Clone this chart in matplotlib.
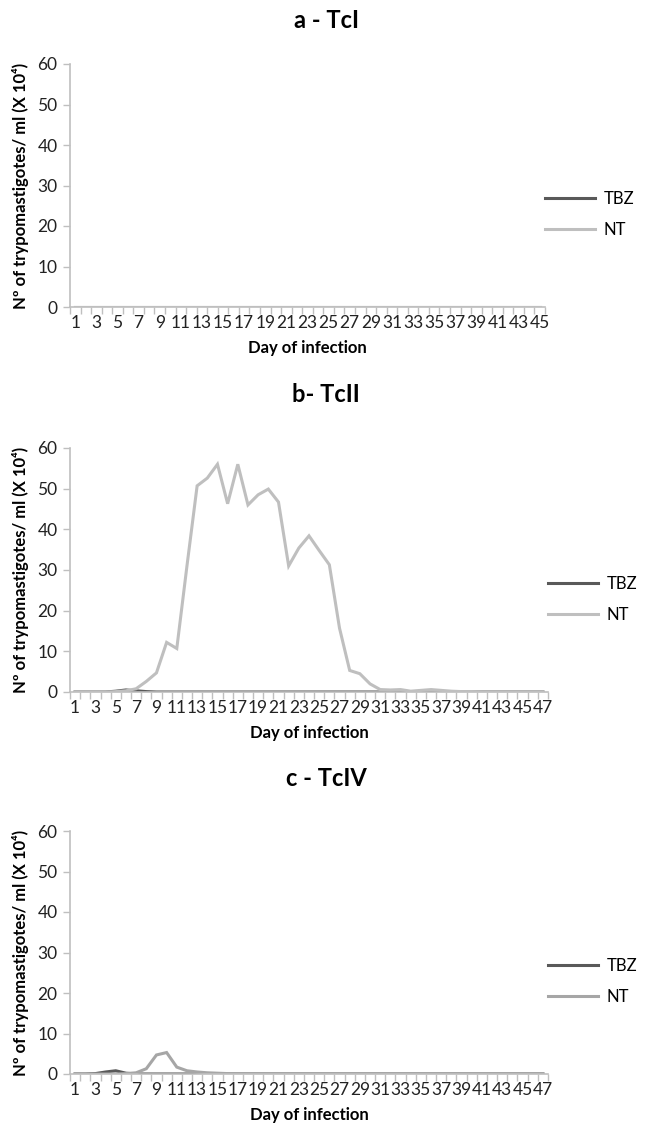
import numpy as np
import matplotlib
matplotlib.use("Agg")
import matplotlib.pyplot as plt

plt.rcParams['font.family'] = ['Lato', 'DejaVu Sans']

# ---- data ----
days_a = list(range(1, 46))
tbz_a = [0, 0, 0, 0, 0, 0, 0, 0, 0, 0, 0, 0, 0, 0, 0, 0, 0, 0, 0, 0, 0, 0, 0,
         0, 0, 0, 0, 0, 0, 0, 0, 0, 0, 0, 0, 0, 0, 0, 0, 0, 0, 0, 0, 0, 0]
nt_a = [0, 0, 0, 0, 0, 0, 0, 0, 0, 0, 0, 0, 0, 0, 0, 0, 0, 0, 0, 0, 0, 0, 0,
        0, 0, 0, 0, 0, 0, 0, 0, 0, 0, 0, 0, 0, 0, 0, 0, 0, 0, 0, 0, 0, 0]

days_b = list(range(1, 48))
tbz_b = [0, 0, 0, 0, 0.2, 0.5, 0.3, 0.1, 0, 0, 0, 0, 0, 0, 0, 0, 0, 0, 0, 0,
         0, 0, 0, 0, 0, 0, 0, 0, 0, 0, 0, 0, 0, 0, 0, 0, 0, 0, 0, 0,
         0, 0, 0, 0, 0, 0, 0]
nt_b = [0, 0, 0, 0, 0.1, 0.3, 0.8, 2.6, 4.7, 12.2, 10.7, 31.0, 50.7, 52.6, 56.0,
        46.3, 56.0, 46.0, 48.5, 49.9, 46.7, 31.0, 35.4, 38.4, 34.8, 31.3, 15.7,
        5.3, 4.5, 2.0, 0.6, 0.5, 0.6, 0.2, 0.4, 0.6, 0.4, 0.2, 0.1, 0.1,
        0, 0, 0, 0, 0, 0, 0]

days_c = list(range(1, 48))
tbz_c = [0, 0, 0.1, 0.5, 0.8, 0.2, 0, 0, 0, 0, 0, 0, 0, 0, 0, 0, 0, 0, 0, 0,
         0, 0, 0, 0, 0, 0, 0, 0, 0, 0, 0, 0, 0, 0, 0, 0, 0, 0, 0, 0,
         0, 0, 0, 0, 0, 0, 0]
nt_c = [0, 0, 0, 0, 0, 0.1, 0.3, 1.3, 4.7, 5.3, 1.7, 0.8, 0.5, 0.3, 0.2, 0.1,
        0.1, 0, 0, 0, 0, 0, 0, 0, 0, 0, 0, 0, 0, 0, 0, 0, 0, 0, 0, 0,
        0, 0, 0, 0, 0, 0, 0, 0, 0, 0, 0]

titles = ["a - TcI", "b- TcII", "c - TcIV"]
yticks = [0, 10, 20, 30, 40, 50, 60]

TBZ_COLOR = "#595959"
NT_COLORS = ["#bfbfbf", "#bfbfbf", "#a6a6a6"]
AXIS_COLOR = "#bfbfbf"

W, H = 652, 1133
fig = plt.figure(figsize=(W / 100, H / 100), dpi=100)

# pixel boxes: left, right, top, bottom
boxes = [(70, 545, 64, 307), (70, 548, 448, 692), (70, 548, 831, 1074)]
title_y = [20, 395, 778]

panels = [(days_a, tbz_a, nt_a), (days_b, tbz_b, nt_b), (days_c, tbz_c, nt_c)]

for k, (days, tbz, nt) in enumerate(panels):
    l, r, t, b = boxes[k]
    ax = fig.add_axes([l / W, (H - b) / H, (r - l) / W, (b - t) / H])
    ax.plot(days, tbz, color=TBZ_COLOR, lw=2.2, label="TBZ", solid_joinstyle="miter")
    ax.plot(days, nt, color=NT_COLORS[k], lw=2.2, label="NT", solid_joinstyle="miter")

    n = len(days)
    ax.set_xlim(0.5, n + 0.5)
    ax.set_ylim(0, 60)
    ax.set_yticks(yticks)
    ax.set_xticks(days[::2])
    ax.set_xticklabels([str(d) for d in days[::2]], fontsize=12.5, color="#222222")
    ax.set_xticks(np.arange(0.5, n + 1, 1), minor=True)
    ax.tick_params(axis="x", which="major", length=0, pad=6)
    ax.tick_params(axis="x", which="minor", length=5, color=AXIS_COLOR, width=1)
    ax.tick_params(axis="y", length=5, color=AXIS_COLOR, width=1, labelsize=12.5,
                   labelcolor="#222222", pad=4)

    for s in ["top", "right"]:
        ax.spines[s].set_visible(False)
    for s in ["left", "bottom"]:
        ax.spines[s].set_color(AXIS_COLOR)
        ax.spines[s].set_linewidth(1.2)

    ax.set_xlabel("Day of infection", fontsize=12, fontweight="bold", labelpad=6)
    ax.set_ylabel("Nº of trypomastigotes/ ml (X 10⁴)", fontsize=12,
                  fontweight="bold", labelpad=6)

    fig.text(0.5, (H - title_y[k]) / H, titles[k], ha="center", va="center",
             fontsize=17, fontweight="bold")

    leg = ax.legend(loc="center left", bbox_to_anchor=(1.0, 0.38), frameon=False,
                    fontsize=12, handlelength=3.0, handletextpad=0.5,
                    labelspacing=0.9, borderaxespad=0.0, borderpad=0.0)

fig.savefig("out.png", dpi=100)
